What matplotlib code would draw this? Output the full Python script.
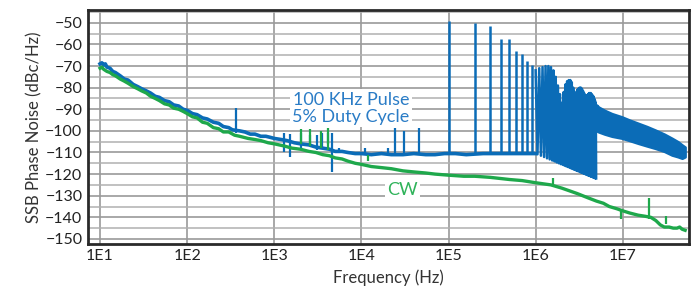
import numpy as np
import matplotlib.pyplot as plt

plt.rcParams['font.family'] = ['Lato', 'DejaVu Sans']

BLUE = '#0b6cb7'
GREEN = '#1ea84b'

# 100 kHz pulse (5% duty): close-in noise and floor up to 1 MHz
pulse_f = [10, 10.5, 11, 11.5, 12, 13, 14, 15, 17, 19, 21, 24, 27, 30, 34, 38, 43, 48,
           55, 62, 70, 80, 90, 100, 115, 130, 150, 170, 200, 230, 260, 300, 330, 400,
           460, 530, 600, 700, 800, 900, 1000, 1200, 1400, 1700, 2000, 2500, 3000, 3600,
           4300, 5000, 6000, 7000, 8500, 1e4, 1.3e4, 1.7e4, 2.2e4, 3e4, 4e4, 5.5e4, 7e4,
           9e4, 1.2e5, 1.6e5, 2.5e5, 3.5e5, 4.5e5, 5.5e5, 6.5e5, 7.5e5, 8.5e5, 9.5e5, 1e6]
pulse_db = [-69, -68.5, -69.5, -69, -70.5, -71, -72.5, -73, -74.5, -76, -76.5, -78.5,
            -79.5, -80.5, -81.5, -82.5, -84, -84.5, -86, -86.5, -88, -88.5, -90, -90.5,
            -92, -92.5, -94, -94.5, -96, -96.5, -98, -98.5, -99.5, -100, -100.5, -101.5,
            -101.5, -102.5, -102.5, -103, -103.5, -104, -104.5, -105.5, -106, -106.5,
            -107.5, -108, -108.5, -109.5, -109.5, -110, -110.5, -110.5, -111, -110.5,
            -111, -111, -110.5, -111, -111, -110.5, -110.5, -111, -110.5, -110.5,
            -110.5, -110.5, -110.5, -110.5, -110.5, -110.5, -110.5]

# pulse harmonics 100 kHz .. 900 kHz (peak levels)
harm_lo_f = [1e5, 2e5, 3e5, 4e5, 5e5, 6e5, 7e5, 8e5, 9e5]
harm_lo_db = [-49, -50, -51.5, -57.5, -57.5, -63, -64.5, -67.5, -69.5]

# dense harmonics 1.0 .. 4.9 MHz: peaks at n*100 kHz, troughs halfway between
harm_n = np.arange(10, 50)
harm_peak_db = [-72, -71, -70.5, -70, -70, -70.5, -72, -75, -79, -83,
                -87, -82, -78.5, -77, -76.5, -76.5, -77.5, -80, -82, -82.5,
                -81, -80.5, -80, -80, -80.5, -81.5, -82.5, -83.5, -84, -83.5,
                -83, -82.5, -82.5, -82.5, -83, -83.5, -84, -85, -86, -87]
harm_trough_db = [-110.8, -111.5, -112.1, -112.7, -113.2, -113.7, -114.1, -114.6,
                  -115, -115.4, -115.7, -116.1, -116.4, -116.7, -117, -117.3, -117.6,
                  -117.9, -118.1, -118.4, -118.6, -118.8, -119.1, -119.3, -119.5,
                  -119.7, -119.9, -120.1, -120.3, -120.5, -120.6, -120.8, -121,
                  -121.2, -121.3, -121.5, -121.6, -121.8, -121.9, -122]

# unresolved harmonics above 5 MHz (band edges)
band_f = [5.0e6, 5.3e6, 6.2e6, 7.5e6, 9.75e6, 1.2e7, 1.51e7, 1.9e7, 2.36e7, 3.0e7, 3.67e7, 4.3e7, 4.8e7, 5.2e7]
band_hi = [-88, -89, -90.5, -92, -93.5, -95, -96.5, -98, -99.6, -101.5, -103.4, -105, -106.5, -107.5]
band_lo = [-100, -100.5, -101.5, -102.5, -103.4, -104.5, -105.8, -107, -108.1, -109.5, -111.2, -112, -112.7, -112]

# other pulse spurs (freq, low end, high end)
pulse_spur_f = [360, 1300, 1500, 2000, 2600, 3100, 3500, 4100, 4600, 5500, 1.1e4, 2e4, 2.4e4, 3.1e4, 4.6e4]
pulse_spur_lo = [-101, -110, -112, -108, -107, -109, -108, -106, -119, -110, -111, -111, -111, -111, -111]
pulse_spur_hi = [-89.5, -101, -101.5, -101, -102, -102, -101, -101, -101, -108, -108, -108, -98.5, -100, -98.5]

# CW carrier
cw_f = [10, 10.5, 11, 12, 13, 14, 15, 17, 19, 21, 24, 27, 30, 34, 38, 43, 48, 55, 62, 70,
        80, 90, 100, 115, 130, 150, 170, 200, 230, 260, 300, 350, 400, 500, 600, 700, 850,
        1000, 1300, 1600, 2000, 2500, 3000, 3600, 4300, 5000, 6000, 7000, 8500, 1e4,
        1.3e4, 1.7e4, 2.2e4, 3e4, 4e4, 5.5e4, 7e4, 1e5, 1.5e5, 2e5, 3e5, 5e5, 7e5, 1e6,
        1.5e6, 2e6, 3e6, 4e6, 5e6, 6e6, 7e6, 8.5e6, 1e7, 1.2e7, 1.5e7, 1.8e7, 2.1e7,
        2.4e7, 2.7e7, 3e7, 3.4e7, 3.8e7, 4.2e7, 4.5e7, 4.8e7, 5.2e7]
cw_db = [-71, -70.5, -71.5, -72.5, -73, -74, -74.5, -76, -77, -78, -79.5, -80.5, -81.5,
         -82.5, -84, -85, -86, -87.5, -88, -89.5, -90, -91, -92, -93.5, -94, -96, -96.5,
         -98.5, -99, -100.5, -100.5, -102, -102.5, -103.5, -104, -104.5, -105.5, -106,
         -107, -108, -108.5, -109.5, -110, -111, -111.5, -112.5, -113, -114, -115,
         -115.5, -116.5, -117, -117.5, -118.5, -119, -119.5, -120, -120.5, -121, -121,
         -121.5, -122.5, -123, -124, -125, -126.5, -129, -131, -132.5, -133.5, -135,
         -136, -137, -138, -139, -139.5, -140, -141.5, -143.5, -144.5, -144.5, -145,
         -145, -144.5, -145.5, -146]

cw_spur_f = [2000, 2600, 3400, 4100, 1.2e4, 1.6e6, 9.5e6, 2.0e7, 3.1e7]
cw_spur_lo = [-106, -107, -108, -109, -114, -126, -141, -141, -143]
cw_spur_hi = [-99, -99, -100, -98.5, -111, -122, -136.5, -131, -139.5]

fig = plt.figure(figsize=(6.91, 2.96), dpi=100)
ax = fig.add_axes([0.1274, 0.176, 0.8696, 0.790])

# pulse trace
ax.plot(pulse_f, pulse_db, color=BLUE, lw=2.6, zorder=3)
ax.vlines(pulse_spur_f, pulse_spur_lo, pulse_spur_hi, color=BLUE, lw=1.6, zorder=3)
ax.vlines(harm_lo_f, -110.5, harm_lo_db, color=BLUE, lw=1.8, zorder=3)

dense_f = np.ravel(np.column_stack([harm_n * 1e5, harm_n * 1e5 + 5e4]))
dense_db = np.ravel(np.column_stack([harm_peak_db, harm_trough_db]))
ax.plot(dense_f, dense_db, color=BLUE, lw=1.8, zorder=3)
ax.fill_between(band_f, band_lo, band_hi, color=BLUE, lw=1.8, edgecolor=BLUE, zorder=3)

# CW trace on top
ax.plot(cw_f, cw_db, color=GREEN, lw=2.4, zorder=4)
ax.vlines(cw_spur_f, cw_spur_lo, cw_spur_hi, color=GREEN, lw=1.6, zorder=4)

ax.set_xscale('log')
ax.set_xlim(7.28, 5.75e7)
ax.set_ylim(-152.3, -44.1)
ax.set_xticks([1e1, 1e2, 1e3, 1e4, 1e5, 1e6, 1e7])
ax.set_xticklabels(['1E1', '1E2', '1E3', '1E4', '1E5', '1E6', '1E7'])
ax.xaxis.set_minor_locator(plt.NullLocator())
ax.set_yticks(np.arange(-150, -40, 10))
ax.set_yticks(np.arange(-145, -40, 10), minor=True)
ax.tick_params(length=0, labelsize=11.5, colors='#222222', which='both', pad=4)

ax.grid(True, which='major', color='#9a9a9a', lw=1.2)
ax.grid(True, which='minor', axis='y', color='#b0b0b0', lw=1.1)
ax.set_axisbelow(True)
for s in ax.spines.values():
    s.set_color('#2a2a2a')
    s.set_linewidth(2)

ax.set_xlabel('Frequency (Hz)', fontsize=12, color='#333333', labelpad=4)
ax.set_ylabel('SSB Phase Noise (dBc/Hz)', fontsize=12, color='#333333', labelpad=2)

ax.text(7.6e3, -89.5, '100 KHz Pulse\n5% Duty Cycle', color='#2a7cc6', fontsize=13,
        ha='center', va='center', linespacing=1.1, zorder=5,
        bbox=dict(facecolor='white', edgecolor='none', pad=1.5))
ax.text(2.96e4, -127.5, 'CW', color='#2fb35a', fontsize=13, ha='center', va='center',
        zorder=5, bbox=dict(facecolor='white', edgecolor='none', pad=1.5))

fig.savefig('out.png', dpi=100)
